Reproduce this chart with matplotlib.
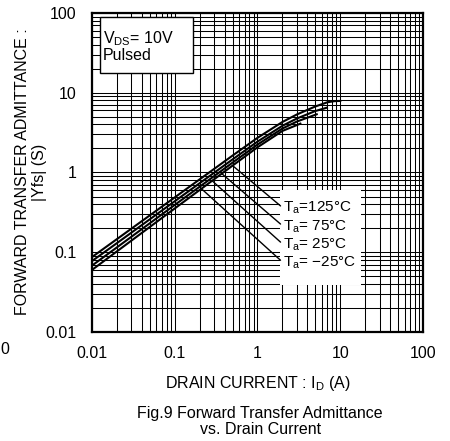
import numpy as np
import matplotlib.pyplot as plt
from matplotlib.patches import Rectangle
from matplotlib.ticker import LogLocator, NullFormatter

plt.rcParams['font.family'] = ['Liberation Sans', 'DejaVu Sans']
plt.rcParams['mathtext.fontset'] = 'custom'
plt.rcParams['mathtext.rm'] = 'Liberation Sans'
plt.rcParams['mathtext.it'] = 'Liberation Sans:italic'
plt.rcParams['font.size'] = 11.5

# values: drain current (A) -> |Yfs| (S)
id_m25 = [0.01, 0.02, 0.05, 0.1, 0.2, 0.5, 1, 2, 3, 5, 7, 8.5, 10]
yfs_m25 = [0.087, 0.146, 0.29, 0.487, 0.82, 1.63, 2.72, 4.3, 5.35, 6.73, 7.6, 7.85, 7.9]
id_25 = [0.01, 0.02, 0.05, 0.1, 0.2, 0.5, 1, 2, 3, 5, 6.9]
yfs_25 = [0.0775, 0.130, 0.259, 0.436, 0.734, 1.46, 2.44, 3.85, 4.76, 5.9, 6.5]
id_75 = [0.01, 0.02, 0.05, 0.1, 0.2, 0.5, 1, 2, 3, 5.2]
yfs_75 = [0.068, 0.115, 0.231, 0.392, 0.663, 1.33, 2.24, 3.56, 4.36, 5.37]
id_125 = [0.01, 0.02, 0.05, 0.1, 0.2, 0.5, 1, 2, 3.3]
yfs_125 = [0.060, 0.1025, 0.2075, 0.354, 0.603, 1.22, 2.07, 3.32, 4.1]

temp_labels = ['T$_{\\rm a}$=125°C', 'T$_{\\rm a}$= 75°C',
               'T$_{\\rm a}$= 25°C', 'T$_{\\rm a}$= \u221225°C']
# where each leader line touches the band (drain current, A)
leader_x = [0.5, 0.37, 0.283, 0.21]

tick_vals = [0.01, 0.1, 1, 10, 100]
tick_text = ['0.01', '0.1', '1', '10', '100']

fig = plt.figure(figsize=(4.5, 4.41), dpi=100)
ax = fig.add_axes([0.2044, 0.2472, 0.7356, 0.7233])

for xs, ys in [(id_m25, yfs_m25), (id_25, yfs_25), (id_75, yfs_75), (id_125, yfs_125)]:
    ax.plot(xs, ys, color='black', lw=1.5, zorder=3)

ax.set_xscale('log')
ax.set_yscale('log')
ax.set_xlim(0.01, 100)
ax.set_ylim(0.01, 100)
ax.set_xticks(tick_vals, tick_text)
ax.set_yticks(tick_vals, tick_text)
ax.xaxis.set_minor_locator(LogLocator(base=10, subs=np.arange(2, 10)))
ax.yaxis.set_minor_locator(LogLocator(base=10, subs=np.arange(2, 10)))
ax.xaxis.set_minor_formatter(NullFormatter())
ax.yaxis.set_minor_formatter(NullFormatter())
ax.tick_params(which='both', length=0)
ax.tick_params(axis='x', pad=10)
ax.tick_params(axis='y', pad=11)
ax.set_axisbelow(True)
ax.grid(which='both', color='black', lw=0.75)
for sp in ax.spines.values():
    sp.set_linewidth(1.6)

# condition box
ax.add_patch(Rectangle((0.024, 0.813), 0.281, 0.175, transform=ax.transAxes,
                       fc='white', ec='black', lw=1.0, zorder=2.5))
ax.text(0.032, 0.950, 'V$_{\\rm DS}$= 10V\nPulsed', transform=ax.transAxes,
        ha='left', va='top', linespacing=1.0, zorder=4)

# temperature labels with leaders
ax.add_patch(Rectangle((0.568, 0.147), 0.245, 0.298, transform=ax.transAxes,
                       fc='white', ec='none', zorder=2.5))
label_y = [0.376, 0.319, 0.262, 0.205]
lx_log = np.log10(id_125)
ly_log = np.log10(yfs_125)
for lab, lxv, fy in zip(temp_labels, leader_x, label_y):
    lyv = 10 ** np.interp(np.log10(lxv), lx_log, ly_log)
    ax.annotate(lab, xy=(lxv, lyv), xycoords='data',
                xytext=(0.578, fy), textcoords='axes fraction',
                ha='left', va='baseline', fontsize=11, zorder=4,
                arrowprops=dict(arrowstyle='-', lw=1.0, color='black',
                                shrinkA=0, shrinkB=0, relpos=(0, 0.5)))

fig.text(0.051, 0.61, 'FORWARD TRANSFER ADMITTANCE :', rotation=90,
         ha='center', va='center')
fig.text(0.087, 0.61, '|Yfs| (S)', rotation=90, ha='center', va='center')
fig.text(0.572, 0.1315, 'DRAIN CURRENT : I$_{\\rm D}$ (A)', ha='center', va='center')
fig.text(0.578, 0.0624, 'Fig.9 Forward Transfer Admittance', ha='center', va='center')
fig.text(0.578, 0.025, 'vs. Drain Current', ha='center', va='center')
fig.text(0.0, 0.207, '0', ha='left', va='center')

fig.savefig('out.png', dpi=100)
